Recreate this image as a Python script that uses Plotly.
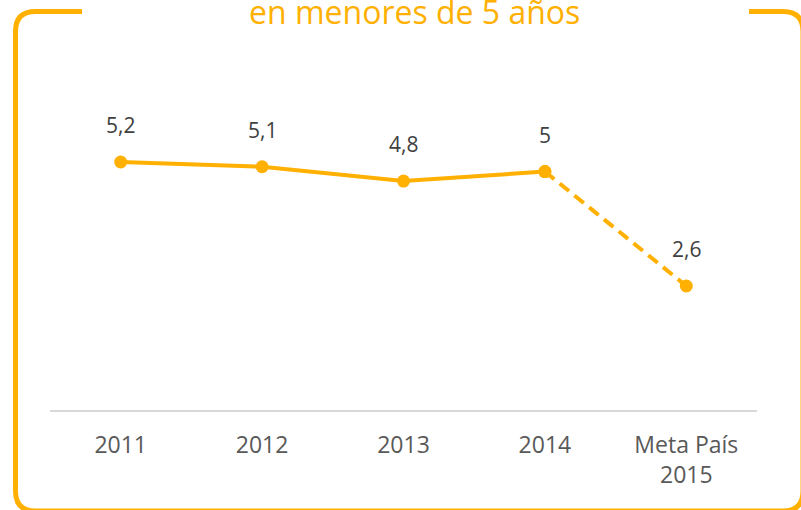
import plotly.graph_objects as go

# datos
categorias = ["2011", "2012", "2013", "2014", "Meta País<br>2015"]
valores = [5.2, 5.1, 4.8, 5.0, 2.6]
titulo = "en menores de 5 años"

naranja = "#FFB000"
W, H = 801, 510
ml, mr, mt, mb = 50, 44, 100, 100


def px(x):
    return (x - ml) / (W - ml - mr)


def py(y):
    return (H - mb - y) / (H - mt - mb)


def marco(pts):
    # pts: lista de (comando, [(x, y), ...]) en pixeles
    s = ""
    for cmd, coords in pts:
        s += cmd + " " + " ".join(f"{px(a):.5f},{py(b):.5f}" for a, b in coords) + " "
    return s.strip()


fig = go.Figure()

# tramo real
fig.add_trace(go.Scatter(
    x=categorias[:4], y=valores[:4], mode="lines+markers",
    line=dict(color=naranja, width=4),
    marker=dict(color=naranja, size=13),
    hoverinfo="skip", showlegend=False))

# tramo meta (punteado)
fig.add_trace(go.Scatter(
    x=categorias[3:], y=valores[3:], mode="lines+markers",
    line=dict(color=naranja, width=4, dash="12px,7px"),
    marker=dict(color=naranja, size=13),
    hoverinfo="skip", showlegend=False))

for i, v in enumerate(valores):
    fig.add_annotation(x=i, y=v, text=f"{v:g}".replace(".", ","),
                       showarrow=False, yshift=37,
                       font=dict(family="Open Sans", size=21, color="#404040"))

fig.add_annotation(xref="paper", yref="paper", x=px(415), y=py(12),
                   text=titulo, showarrow=False, yanchor="middle",
                   font=dict(family="Open Sans", size=32, color=naranja))

r = 20
L, T, R, B = 15.5, 11.5, 803, 511
fig.add_shape(type="path", xref="paper", yref="paper",
              path=marco([("M", [(82, T)]), ("L", [(L + r, T)]),
                          ("Q", [(L, T), (L, T + r)]), ("L", [(L, B - r)]),
                          ("Q", [(L, B), (L + r, B)]), ("L", [(R - r, B)]),
                          ("Q", [(R, B), (R, B - r)]), ("L", [(R, T + r)]),
                          ("Q", [(R, T), (R - r, T)]), ("L", [(749, T)])]),
              line=dict(color=naranja, width=5))

fig.update_xaxes(
    type="category", range=[-0.5, 4.5],
    showline=True, linecolor="#D9D9D9", linewidth=1.5,
    showgrid=False, zeroline=False, ticks="",
    ticklabelstandoff=14,
    tickfont=dict(family="Open Sans", size=23, color="#595959"))
fig.update_yaxes(range=[0, 6.5], visible=False, fixedrange=True)

fig.update_layout(
    width=W, height=H,
    margin=dict(l=ml, r=mr, t=mt, b=mb),
    paper_bgcolor="white", plot_bgcolor="white",
    separators=",.")

fig.write_html("out.html", config={"displayModeBar": False},
               post_script="document.body.style.margin='0';")
